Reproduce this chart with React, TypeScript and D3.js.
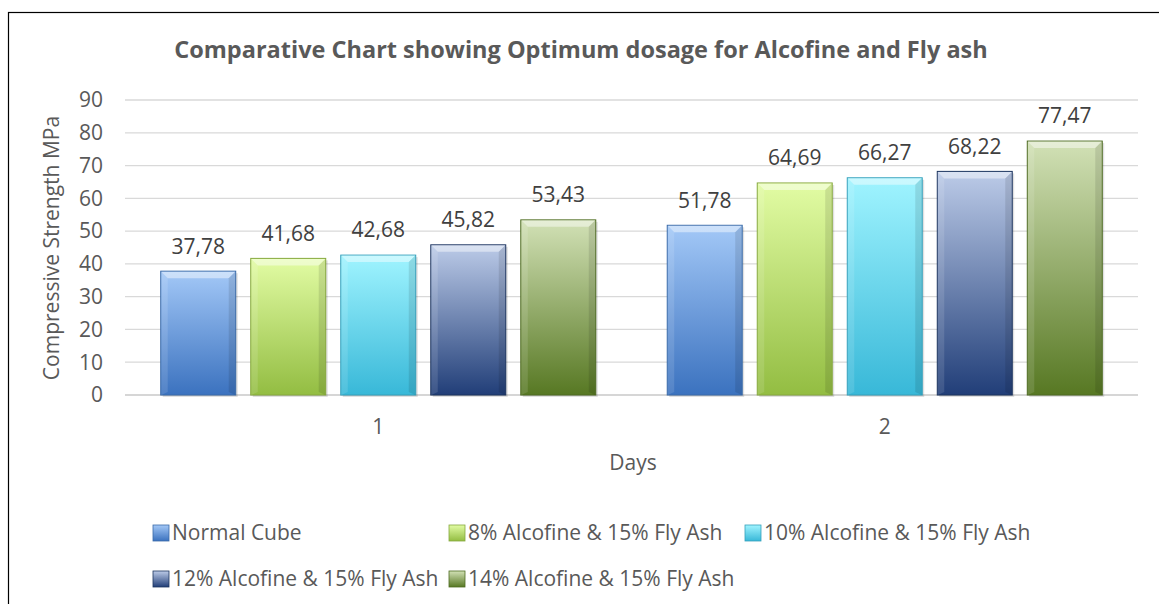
import React, { useEffect, useRef } from "react";
import * as d3 from "d3";

const days = ["1", "2"];
const seriesNames = [
  "Normal Cube",
  "8% Alcofine & 15% Fly Ash",
  "10% Alcofine & 15% Fly Ash",
  "12% Alcofine & 15% Fly Ash",
  "14% Alcofine & 15% Fly Ash",
];
const normalCube = [37.78, 51.78];
const alcofine8 = [41.68, 64.69];
const alcofine10 = [42.68, 66.27];
const alcofine12 = [45.82, 68.22];
const alcofine14 = [53.43, 77.47];
const yTicks = [0, 10, 20, 30, 40, 50, 60, 70, 80, 90];

// top / bottom colours of each bar gradient
const topColors = ["#a3c8f7", "#e2fca4", "#a0f4ff", "#bccbe8", "#d2e1b6"];
const bottomColors = ["#3b72bf", "#93bd42", "#38b8d8", "#213e78", "#577823"];
const edgeColors = ["#3a6aa8", "#86a83e", "#35a0bb", "#1d355f", "#4e6b22"];

const App = () => {
  const ref = useRef<SVGSVGElement>(null);

  useEffect(() => {
    const width = 1159,
      height = 604;
    const svg = d3.select(ref.current).attr("width", width).attr("height", height);
    svg.selectAll("*").remove();
    const font = "'Open Sans', sans-serif";
    const textColor = "#595959";
    const fs = "21px";

    const allSeries = [normalCube, alcofine8, alcofine10, alcofine12, alcofine14];

    // outer frame (right and bottom edges fall outside the picture)
    svg
      .append("rect")
      .attr("x", 8.5)
      .attr("y", 12.5)
      .attr("width", 1160)
      .attr("height", 620)
      .attr("fill", "white")
      .attr("stroke", "black")
      .attr("stroke-width", 1.2);

    const left = 125,
      right = 1138,
      top = 100,
      bottom = 395;

    const y = d3.scaleLinear().domain([0, 90]).range([bottom, top]);
    const x0 = d3.scaleBand().domain(days).range([left, right]).padding(0);
    const x1 = d3
      .scaleBand()
      .domain(seriesNames)
      .range([0, x0.bandwidth()])
      .paddingInner(0.167)
      .paddingOuter(0.397);

    const defs = svg.append("defs");
    seriesNames.forEach((s, i) => {
      const g = defs
        .append("linearGradient")
        .attr("id", "grad" + i)
        .attr("x1", 0)
        .attr("y1", 0)
        .attr("x2", 0)
        .attr("y2", 1);
      g.append("stop").attr("offset", "0%").attr("stop-color", topColors[i]);
      g.append("stop").attr("offset", "100%").attr("stop-color", bottomColors[i]);
    });

    // title
    svg
      .append("text")
      .attr("x", 581)
      .attr("y", 58)
      .attr("text-anchor", "middle")
      .style("font-family", font)
      .style("font-size", "23.5px")
      .style("font-weight", "bold")
      .style("fill", textColor)
      .text("Comparative Chart showing Optimum dosage for Alcofine and Fly ash");

    // grid
    svg
      .append("g")
      .selectAll("line")
      .data(yTicks)
      .join("line")
      .attr("x1", left)
      .attr("x2", right)
      .attr("y1", (d) => y(d))
      .attr("y2", (d) => y(d))
      .attr("stroke", (d) => (d === 0 ? "#c8c8c8" : "#d9d9d9"))
      .attr("stroke-width", 1.3);

    svg
      .append("g")
      .selectAll("text")
      .data(yTicks)
      .join("text")
      .attr("x", 103)
      .attr("y", (d) => y(d))
      .attr("dy", "0.35em")
      .attr("text-anchor", "end")
      .style("font-family", font)
      .style("font-size", fs)
      .style("fill", textColor)
      .text((d) => d);

    // bars
    const groups = svg
      .append("g")
      .selectAll("g")
      .data(days)
      .join("g")
      .attr("transform", (d) => `translate(${x0(d)},0)`);

    groups.each(function (day, di) {
      const g = d3.select(this);
      seriesNames.forEach((s, si) => {
        const v = allSeries[si][di];
        const bx = x1(s)!;
        const bw = x1.bandwidth();
        const by = y(v);
        const bh = y(0) - by;
        // shadow
        g.append("rect")
          .attr("x", bx + 2)
          .attr("y", by + 2)
          .attr("width", bw)
          .attr("height", bh)
          .attr("fill", "#000")
          .attr("opacity", 0.12);
        g.append("rect")
          .attr("x", bx)
          .attr("y", by)
          .attr("width", bw)
          .attr("height", bh)
          .attr("fill", `url(#grad${si})`)
          .attr("stroke", edgeColors[si])
          .attr("stroke-width", 1);
        // top bevel
        const bev = 7;
        g.append("path")
          .attr(
            "d",
            `M${bx + 0.5},${by + 0.5} L${bx + bw - 0.5},${by + 0.5} L${bx + bw - bev},${by + bev} L${bx + bev},${by + bev} Z`
          )
          .attr("fill", "white")
          .attr("opacity", 0.45);
        // side bevels
        g.append("path")
          .attr("d", `M${bx + 0.5},${by + 0.5} L${bx + bev},${by + bev} L${bx + bev},${by + bh - 3} L${bx + 0.5},${by + bh}Z`)
          .attr("fill", "white")
          .attr("opacity", 0.12);
        g.append("path")
          .attr(
            "d",
            `M${bx + bw - 0.5},${by + 0.5} L${bx + bw - bev},${by + bev} L${bx + bw - bev},${by + bh - 3} L${bx + bw - 0.5},${by + bh}Z`
          )
          .attr("fill", "black")
          .attr("opacity", 0.1);
        g.append("text")
          .attr("x", bx + bw / 2)
          .attr("y", by - 25)
          .attr("dy", "0.35em")
          .attr("text-anchor", "middle")
          .style("font-family", font)
          .style("font-size", fs)
          .style("fill", "#404040")
          .text(v.toFixed(2).replace(".", ","));
      });
    });

    // category labels
    svg
      .append("g")
      .selectAll("text")
      .data(days)
      .join("text")
      .attr("x", (d) => x0(d)! + x0.bandwidth() / 2)
      .attr("y", 427)
      .attr("dy", "0.35em")
      .attr("text-anchor", "middle")
      .style("font-family", font)
      .style("font-size", fs)
      .style("fill", textColor)
      .text((d) => d);

    svg
      .append("text")
      .attr("x", 633)
      .attr("y", 463)
      .attr("dy", "0.35em")
      .attr("text-anchor", "middle")
      .style("font-family", font)
      .style("font-size", fs)
      .style("fill", textColor)
      .text("Days");

    svg
      .append("text")
      .attr("transform", `translate(52,248) rotate(-90)`)
      .attr("text-anchor", "middle")
      .attr("dy", "0.35em")
      .style("font-family", font)
      .style("font-size", fs)
      .style("fill", textColor)
      .text("Compressive Strength MPa");

    // legend
    const legendPos = [
      [153, 533],
      [449, 533],
      [745, 533],
      [153, 579],
      [449, 579],
    ];
    seriesNames.forEach((s, i) => {
      const [lx, ly] = legendPos[i];
      svg
        .append("rect")
        .attr("x", lx)
        .attr("y", ly - 8)
        .attr("width", 16)
        .attr("height", 16)
        .attr("fill", `url(#grad${i})`)
        .attr("stroke", edgeColors[i])
        .attr("stroke-width", 0.8);
      svg
        .append("text")
        .attr("x", lx + 19)
        .attr("y", ly)
        .attr("dy", "0.35em")
        .style("font-family", font)
        .style("font-size", fs)
        .style("fill", textColor)
        .text(s);
    });
  }, []);

  return <svg ref={ref} style={{ position: "absolute", left: 0, top: 0 }}></svg>;
};

export default App;
